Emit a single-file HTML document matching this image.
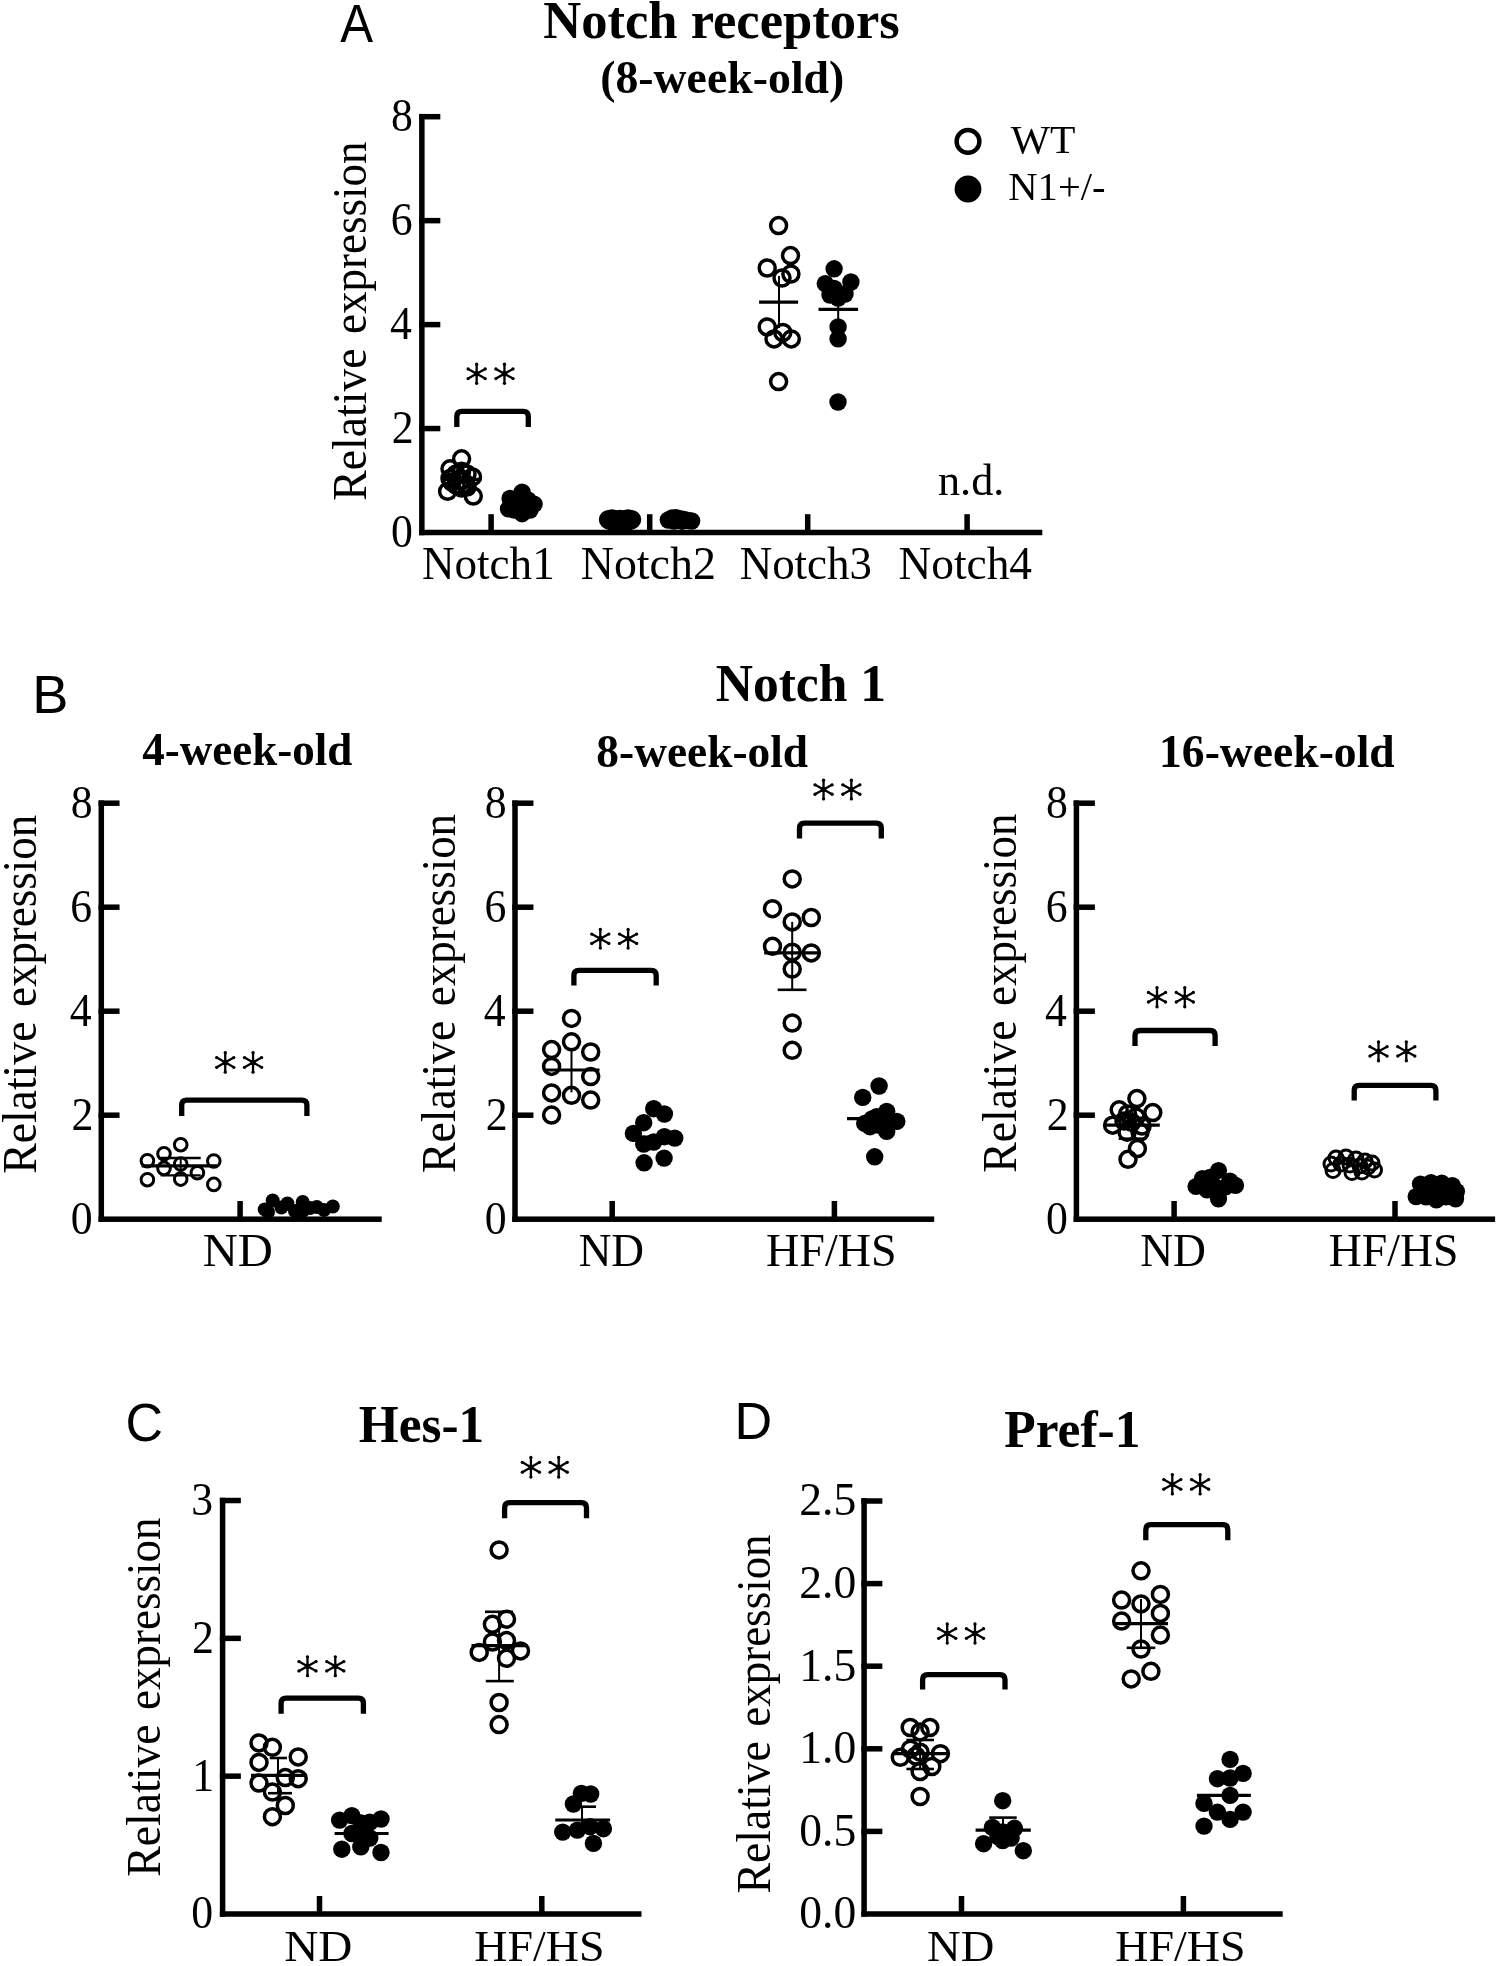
<!DOCTYPE html>
<html><head><meta charset="utf-8"><title>Figure</title>
<style>html,body{margin:0;padding:0;background:#fff;}svg{display:block;will-change:transform;}</style>
</head><body>
<svg width="1498" height="1966" viewBox="0 0 1498 1966"><rect width="100%" height="100%" fill="#fff"/><text transform="translate(340.4 41.85) scale(0.9246 1)" x="-0.13" y="0" font-family="Liberation Sans" font-weight="normal" font-size="53.3">A</text>
<text transform="translate(544.3 37.7) scale(0.9915 1)" x="-1.06" y="0" font-family="Liberation Serif" font-weight="bold" font-size="53">Notch receptors</text>
<text transform="translate(602.1 92.8) scale(0.9702 1)" x="-2.01" y="0" font-family="Liberation Serif" font-weight="bold" font-size="47.2">(8-week-old)</text>
<rect x="419.1" y="113.95" width="5.5" height="421.3"/>
<rect x="419.1" y="529.75" width="623.2" height="5.5"/>
<rect x="419.1" y="425.8" width="21.2" height="5.5"/>
<rect x="419.1" y="321.85" width="21.2" height="5.5"/>
<rect x="419.1" y="217.9" width="21.2" height="5.5"/>
<rect x="419.1" y="113.95" width="21.2" height="5.5"/>
<rect x="488.35" y="514.2" width="5.5" height="18.3"/>
<rect x="646.95" y="514.2" width="5.5" height="18.3"/>
<rect x="804.95" y="514.2" width="5.5" height="18.3"/>
<rect x="964.35" y="514.2" width="5.5" height="18.3"/>
<text transform="translate(392.7 546.9) scale(0.9600 1)" x="-1.71" y="0" font-family="Liberation Serif" font-weight="normal" font-size="45.6">0</text>
<text transform="translate(393.68 442.96) scale(0.9600 1)" x="-1.94" y="0" font-family="Liberation Serif" font-weight="normal" font-size="45.6">2</text>
<text transform="translate(390.94 339.01) scale(0.9600 1)" x="-0.91" y="0" font-family="Liberation Serif" font-weight="normal" font-size="45.6">4</text>
<text transform="translate(392.59 235.05) scale(0.9600 1)" x="-1.94" y="0" font-family="Liberation Serif" font-weight="normal" font-size="45.6">6</text>
<text transform="translate(392.7 131.1) scale(0.9600 1)" x="-1.71" y="0" font-family="Liberation Serif" font-weight="normal" font-size="45.6">8</text>
<text transform="translate(365.7 499.5) rotate(-90) scale(0.9505 1)" x="-1.32" y="0" font-family="Liberation Serif" font-weight="normal" font-size="48.1">Relative</text>
<text transform="translate(365.7 332.2) rotate(-90) scale(0.9355 1)" x="-1.92" y="0" font-family="Liberation Serif" font-weight="normal" font-size="48.1">expression</text>
<text transform="translate(423.2 579.1) scale(0.9743 1)" x="-1.27" y="0" font-family="Liberation Serif" font-weight="normal" font-size="46.3">Notch1</text>
<text transform="translate(582 579.1) scale(0.9914 1)" x="-1.27" y="0" font-family="Liberation Serif" font-weight="normal" font-size="46.3">Notch2</text>
<text transform="translate(740.9 579.1) scale(0.9713 1)" x="-1.27" y="0" font-family="Liberation Serif" font-weight="normal" font-size="46.3">Notch3</text>
<text transform="translate(899.7 579.1) scale(0.9800 1)" x="-1.27" y="0" font-family="Liberation Serif" font-weight="normal" font-size="46.3">Notch4</text>
<text transform="translate(939 494.6) scale(0.9817 1)" x="-1.01" y="0" font-family="Liberation Serif" font-weight="normal" font-size="45">n.d.</text>
<circle cx="968" cy="141.4" r="11.4" fill="none" stroke="#000" stroke-width="4.4"/>
<circle cx="968" cy="189" r="13.4"/>
<text transform="translate(1010.8 152.7) scale(1.0484 1)" x="-0" y="0" font-family="Liberation Serif" font-weight="normal" font-size="39.7">WT</text>
<text transform="translate(1009.4 200.1) scale(1.0227 1)" x="-1.09" y="0" font-family="Liberation Serif" font-weight="normal" font-size="39.7">N1+/-</text>
<path d="M456.8 426.9 V416.4 Q456.8 411.4 461.8 411.4 H523.3 Q528.3 411.4 528.3 416.4 V426.9" fill="none" stroke="#000" stroke-width="5.3"/>
<path d="M476.65 364.15V383.35M468.1 368.95L485.2 378.55M468.1 378.55L485.2 368.95" stroke="#000" stroke-width="2.3" stroke-linecap="round" fill="none"/>
<circle cx="476.65" cy="364.15" r="1.65"/><circle cx="476.65" cy="383.35" r="1.65"/><circle cx="468.1" cy="368.95" r="1.65"/><circle cx="485.2" cy="378.55" r="1.65"/><circle cx="468.1" cy="378.55" r="1.65"/><circle cx="485.2" cy="368.95" r="1.65"/>
<circle cx="476.65" cy="373.75" r="2.7"/>
<path d="M504.45 364.15V383.35M495.9 368.95L513 378.55M495.9 378.55L513 368.95" stroke="#000" stroke-width="2.3" stroke-linecap="round" fill="none"/>
<circle cx="504.45" cy="364.15" r="1.65"/><circle cx="504.45" cy="383.35" r="1.65"/><circle cx="495.9" cy="368.95" r="1.65"/><circle cx="513" cy="378.55" r="1.65"/><circle cx="495.9" cy="378.55" r="1.65"/><circle cx="513" cy="368.95" r="1.65"/>
<circle cx="504.45" cy="373.75" r="2.7"/>
<line x1="441.5" y1="479.3" x2="481.5" y2="479.3" stroke="#000" stroke-width="3.2"/>
<circle cx="461.6" cy="458.8" r="8" fill="none" stroke="#000" stroke-width="3.5"/>
<circle cx="450" cy="468.8" r="8" fill="none" stroke="#000" stroke-width="3.5"/>
<circle cx="461.6" cy="471.2" r="8" fill="none" stroke="#000" stroke-width="3.5"/>
<circle cx="472.5" cy="476.9" r="8" fill="none" stroke="#000" stroke-width="3.5"/>
<circle cx="450" cy="478.5" r="8" fill="none" stroke="#000" stroke-width="3.5"/>
<circle cx="461.6" cy="480" r="8" fill="none" stroke="#000" stroke-width="3.5"/>
<circle cx="447.6" cy="491.3" r="8" fill="none" stroke="#000" stroke-width="3.5"/>
<circle cx="461.6" cy="488.1" r="8" fill="none" stroke="#000" stroke-width="3.5"/>
<circle cx="473.3" cy="496.1" r="8" fill="none" stroke="#000" stroke-width="3.5"/>
<circle cx="466" cy="484" r="8" fill="none" stroke="#000" stroke-width="3.5"/>
<circle cx="456" cy="474" r="8" fill="none" stroke="#000" stroke-width="3.5"/>
<circle cx="467" cy="474" r="8" fill="none" stroke="#000" stroke-width="3.5"/>
<circle cx="456" cy="485" r="8" fill="none" stroke="#000" stroke-width="3.5"/>
<circle cx="467" cy="487" r="8" fill="none" stroke="#000" stroke-width="3.5"/>
<circle cx="461" cy="481" r="8" fill="none" stroke="#000" stroke-width="3.5"/>
<circle cx="452" cy="482" r="8" fill="none" stroke="#000" stroke-width="3.5"/>
<circle cx="522.1" cy="492.1" r="8.7"/>
<circle cx="510.1" cy="498.5" r="8.7"/>
<circle cx="534.1" cy="504.1" r="8.7"/>
<circle cx="508.5" cy="508.9" r="8.7"/>
<circle cx="522.1" cy="513.7" r="8.7"/>
<circle cx="518.1" cy="504.1" r="8.7"/>
<circle cx="528" cy="500" r="8.7"/>
<circle cx="514" cy="510" r="8.7"/>
<circle cx="530" cy="510" r="8.7"/>
<circle cx="608.6" cy="519.7" r="8" fill="none" stroke="#000" stroke-width="3.5"/>
<circle cx="611.46" cy="520.7" r="8" fill="none" stroke="#000" stroke-width="3.5"/>
<circle cx="614.32" cy="519.7" r="8" fill="none" stroke="#000" stroke-width="3.5"/>
<circle cx="617.18" cy="520.7" r="8" fill="none" stroke="#000" stroke-width="3.5"/>
<circle cx="620.04" cy="519.7" r="8" fill="none" stroke="#000" stroke-width="3.5"/>
<circle cx="622.9" cy="520.7" r="8" fill="none" stroke="#000" stroke-width="3.5"/>
<circle cx="625.76" cy="519.7" r="8" fill="none" stroke="#000" stroke-width="3.5"/>
<circle cx="628.62" cy="520.7" r="8" fill="none" stroke="#000" stroke-width="3.5"/>
<circle cx="631.48" cy="519.7" r="8" fill="none" stroke="#000" stroke-width="3.5"/>
<circle cx="612" cy="519" r="8" fill="none" stroke="#000" stroke-width="3.5"/>
<circle cx="620" cy="519.5" r="8" fill="none" stroke="#000" stroke-width="3.5"/>
<circle cx="628" cy="519" r="8" fill="none" stroke="#000" stroke-width="3.5"/>
<circle cx="668.3" cy="520" r="8.7"/>
<circle cx="672" cy="518" r="8.7"/>
<circle cx="676" cy="517.6" r="8.7"/>
<circle cx="680" cy="518.8" r="8.7"/>
<circle cx="684" cy="519.5" r="8.7"/>
<circle cx="688" cy="520.5" r="8.7"/>
<circle cx="691.6" cy="521" r="8.7"/>
<circle cx="674" cy="521" r="8.7"/>
<circle cx="682" cy="521.2" r="8.7"/>
<line x1="779" y1="276" x2="779" y2="328" stroke="#000" stroke-width="2"/>
<line x1="759.1" y1="302.1" x2="798.1" y2="302.1" stroke="#000" stroke-width="3.2"/>
<circle cx="778.6" cy="225.6" r="8" fill="none" stroke="#000" stroke-width="3.5"/>
<circle cx="790.5" cy="255.6" r="8" fill="none" stroke="#000" stroke-width="3.5"/>
<circle cx="767.2" cy="268" r="8" fill="none" stroke="#000" stroke-width="3.5"/>
<circle cx="782" cy="278" r="8" fill="none" stroke="#000" stroke-width="3.5"/>
<circle cx="790.9" cy="274" r="8" fill="none" stroke="#000" stroke-width="3.5"/>
<circle cx="767.2" cy="326.9" r="8" fill="none" stroke="#000" stroke-width="3.5"/>
<circle cx="774" cy="338.9" r="8" fill="none" stroke="#000" stroke-width="3.5"/>
<circle cx="782.8" cy="332.5" r="8" fill="none" stroke="#000" stroke-width="3.5"/>
<circle cx="791.3" cy="338.9" r="8" fill="none" stroke="#000" stroke-width="3.5"/>
<circle cx="778.6" cy="381.6" r="8" fill="none" stroke="#000" stroke-width="3.5"/>
<line x1="838.2" y1="290" x2="838.2" y2="328" stroke="#000" stroke-width="2"/>
<line x1="818.5" y1="309.3" x2="858.1" y2="309.3" stroke="#000" stroke-width="3.2"/>
<circle cx="834.1" cy="268.8" r="8.7"/>
<circle cx="825.3" cy="283.6" r="8.7"/>
<circle cx="850.9" cy="282" r="8.7"/>
<circle cx="838.1" cy="298.1" r="8.7"/>
<circle cx="834.1" cy="288.5" r="8.7"/>
<circle cx="830" cy="295" r="8.7"/>
<circle cx="845" cy="294" r="8.7"/>
<circle cx="838.1" cy="326.9" r="8.7"/>
<circle cx="838.1" cy="338.9" r="8.7"/>
<circle cx="838" cy="402" r="8.7"/>
<text transform="translate(36.6 713.1) scale(1.0163 1)" x="-4.41" y="0" font-family="Liberation Sans" font-weight="normal" font-size="53.4">B</text>
<text transform="translate(716.7 700.9) scale(0.9603 1)" x="-1.07" y="0" font-family="Liberation Serif" font-weight="bold" font-size="53.7">Notch 1</text>
<text transform="translate(142.8 765.3) scale(0.9791 1)" x="-0.58" y="0" font-family="Liberation Serif" font-weight="bold" font-size="46">4-week-old</text>
<text transform="translate(597.8 766.6) scale(0.9871 1)" x="-1.5" y="0" font-family="Liberation Serif" font-weight="bold" font-size="46">8-week-old</text>
<text transform="translate(1162.7 767.3) scale(0.9664 1)" x="-3.78" y="0" font-family="Liberation Serif" font-weight="bold" font-size="47.2">16-week-old</text>
<rect x="98.55" y="800.45" width="5.5" height="421.5"/>
<rect x="98.55" y="1216.45" width="283.15" height="5.5"/>
<rect x="98.55" y="1112.45" width="21" height="5.5"/>
<rect x="98.55" y="1008.45" width="21" height="5.5"/>
<rect x="98.55" y="904.45" width="21" height="5.5"/>
<rect x="98.55" y="800.45" width="21" height="5.5"/>
<rect x="237.35" y="1201" width="5.5" height="18.2"/>
<text transform="translate(72.3 1233.61) scale(0.9600 1)" x="-1.71" y="0" font-family="Liberation Serif" font-weight="normal" font-size="45.6">0</text>
<text transform="translate(73.28 1129.61) scale(0.9600 1)" x="-1.94" y="0" font-family="Liberation Serif" font-weight="normal" font-size="45.6">2</text>
<text transform="translate(70.54 1025.61) scale(0.9600 1)" x="-0.91" y="0" font-family="Liberation Serif" font-weight="normal" font-size="45.6">4</text>
<text transform="translate(72.19 921.61) scale(0.9600 1)" x="-1.94" y="0" font-family="Liberation Serif" font-weight="normal" font-size="45.6">6</text>
<text transform="translate(72.3 817.61) scale(0.9600 1)" x="-1.71" y="0" font-family="Liberation Serif" font-weight="normal" font-size="45.6">8</text>
<text transform="translate(35.9 1172.6) rotate(-90) scale(0.9505 1)" x="-1.32" y="0" font-family="Liberation Serif" font-weight="normal" font-size="48.1">Relative</text>
<text transform="translate(35.9 1005.3) rotate(-90) scale(0.9355 1)" x="-1.92" y="0" font-family="Liberation Serif" font-weight="normal" font-size="48.1">expression</text>
<text transform="translate(204 1265.9) scale(1.0371 1)" x="-1.29" y="0" font-family="Liberation Serif" font-weight="normal" font-size="46.9">ND</text>
<path d="M181.7 1116 V1105.1 Q181.7 1100.1 186.7 1100.1 H301.9 Q306.9 1100.1 306.9 1105.1 V1116" fill="none" stroke="#000" stroke-width="5.3"/>
<path d="M225.25 1052.75V1072.15M216.7 1057.6L233.8 1067.3M216.7 1067.3L233.8 1057.6" stroke="#000" stroke-width="2.3" stroke-linecap="round" fill="none"/>
<circle cx="225.25" cy="1052.75" r="1.65"/><circle cx="225.25" cy="1072.15" r="1.65"/><circle cx="216.7" cy="1057.6" r="1.65"/><circle cx="233.8" cy="1067.3" r="1.65"/><circle cx="216.7" cy="1067.3" r="1.65"/><circle cx="233.8" cy="1057.6" r="1.65"/>
<circle cx="225.25" cy="1062.45" r="2.7"/>
<path d="M253.05 1052.75V1072.15M244.5 1057.6L261.6 1067.3M244.5 1067.3L261.6 1057.6" stroke="#000" stroke-width="2.3" stroke-linecap="round" fill="none"/>
<circle cx="253.05" cy="1052.75" r="1.65"/><circle cx="253.05" cy="1072.15" r="1.65"/><circle cx="244.5" cy="1057.6" r="1.65"/><circle cx="261.6" cy="1067.3" r="1.65"/><circle cx="244.5" cy="1067.3" r="1.65"/><circle cx="261.6" cy="1057.6" r="1.65"/>
<circle cx="253.05" cy="1062.45" r="2.7"/>
<line x1="141.6" y1="1165.8" x2="217.2" y2="1165.8" stroke="#000" stroke-width="3.2"/>
<line x1="180.7" y1="1158" x2="180.7" y2="1175.4" stroke="#000" stroke-width="2"/>
<line x1="160.7" y1="1158" x2="200.7" y2="1158" stroke="#000" stroke-width="2.4"/>
<line x1="160.7" y1="1175.4" x2="200.7" y2="1175.4" stroke="#000" stroke-width="2.4"/>
<circle cx="180.7" cy="1144.7" r="6.3" fill="none" stroke="#000" stroke-width="3"/>
<circle cx="164" cy="1153.7" r="6.3" fill="none" stroke="#000" stroke-width="3"/>
<circle cx="147.4" cy="1160.7" r="6.3" fill="none" stroke="#000" stroke-width="3"/>
<circle cx="213.8" cy="1161" r="6.3" fill="none" stroke="#000" stroke-width="3"/>
<circle cx="164" cy="1168.4" r="6.3" fill="none" stroke="#000" stroke-width="3"/>
<circle cx="180.7" cy="1164" r="6.3" fill="none" stroke="#000" stroke-width="3"/>
<circle cx="180.7" cy="1179.1" r="6.3" fill="none" stroke="#000" stroke-width="3"/>
<circle cx="197.4" cy="1172.7" r="6.3" fill="none" stroke="#000" stroke-width="3"/>
<circle cx="147.4" cy="1179.7" r="6.3" fill="none" stroke="#000" stroke-width="3"/>
<circle cx="213.8" cy="1184.4" r="6.3" fill="none" stroke="#000" stroke-width="3"/>
<circle cx="264.7" cy="1209.4" r="7"/>
<circle cx="272.7" cy="1200.5" r="7"/>
<circle cx="281.4" cy="1207.5" r="7"/>
<circle cx="287.4" cy="1203.5" r="7"/>
<circle cx="295" cy="1211" r="7"/>
<circle cx="302.7" cy="1202" r="7"/>
<circle cx="302.7" cy="1211" r="7"/>
<circle cx="310" cy="1208" r="7"/>
<circle cx="316.8" cy="1207" r="7"/>
<circle cx="324" cy="1210" r="7"/>
<circle cx="332.8" cy="1206.5" r="7"/>
<circle cx="268" cy="1212" r="7"/>
<rect x="512.25" y="800.45" width="5.5" height="421.5"/>
<rect x="512.25" y="1216.45" width="421.95" height="5.5"/>
<rect x="512.25" y="1112.45" width="21.2" height="5.5"/>
<rect x="512.25" y="1008.45" width="21.2" height="5.5"/>
<rect x="512.25" y="904.45" width="21.2" height="5.5"/>
<rect x="512.25" y="800.45" width="21.2" height="5.5"/>
<rect x="609.45" y="1201" width="5.5" height="18.2"/>
<rect x="831.65" y="1201" width="5.5" height="18.2"/>
<text transform="translate(486.5 1233.61) scale(0.9600 1)" x="-1.71" y="0" font-family="Liberation Serif" font-weight="normal" font-size="45.6">0</text>
<text transform="translate(487.48 1129.61) scale(0.9600 1)" x="-1.94" y="0" font-family="Liberation Serif" font-weight="normal" font-size="45.6">2</text>
<text transform="translate(484.74 1025.61) scale(0.9600 1)" x="-0.91" y="0" font-family="Liberation Serif" font-weight="normal" font-size="45.6">4</text>
<text transform="translate(486.39 921.61) scale(0.9600 1)" x="-1.94" y="0" font-family="Liberation Serif" font-weight="normal" font-size="45.6">6</text>
<text transform="translate(486.5 817.61) scale(0.9600 1)" x="-1.71" y="0" font-family="Liberation Serif" font-weight="normal" font-size="45.6">8</text>
<text transform="translate(454.8 1171.8) rotate(-90) scale(0.9505 1)" x="-1.32" y="0" font-family="Liberation Serif" font-weight="normal" font-size="48.1">Relative</text>
<text transform="translate(454.8 1004.5) rotate(-90) scale(0.9355 1)" x="-1.92" y="0" font-family="Liberation Serif" font-weight="normal" font-size="48.1">expression</text>
<text transform="translate(579.9 1265.9) scale(0.9659 1)" x="-1.29" y="0" font-family="Liberation Serif" font-weight="normal" font-size="46.9">ND</text>
<text transform="translate(767.2 1265.9) scale(0.9834 1)" x="-1.29" y="0" font-family="Liberation Serif" font-weight="normal" font-size="46.9">HF/HS</text>
<path d="M573.9 985.6 V975.3 Q573.9 970.3 578.9 970.3 H651.2 Q656.2 970.3 656.2 975.3 V985.6" fill="none" stroke="#000" stroke-width="5.3"/>
<path d="M600.3 929.45V948.05M591.75 934.1L608.85 943.4M591.75 943.4L608.85 934.1" stroke="#000" stroke-width="2.3" stroke-linecap="round" fill="none"/>
<circle cx="600.3" cy="929.45" r="1.65"/><circle cx="600.3" cy="948.05" r="1.65"/><circle cx="591.75" cy="934.1" r="1.65"/><circle cx="608.85" cy="943.4" r="1.65"/><circle cx="591.75" cy="943.4" r="1.65"/><circle cx="608.85" cy="934.1" r="1.65"/>
<circle cx="600.3" cy="938.75" r="2.7"/>
<path d="M628.1 929.45V948.05M619.55 934.1L636.65 943.4M619.55 943.4L636.65 934.1" stroke="#000" stroke-width="2.3" stroke-linecap="round" fill="none"/>
<circle cx="628.1" cy="929.45" r="1.65"/><circle cx="628.1" cy="948.05" r="1.65"/><circle cx="619.55" cy="934.1" r="1.65"/><circle cx="636.65" cy="943.4" r="1.65"/><circle cx="619.55" cy="943.4" r="1.65"/><circle cx="636.65" cy="934.1" r="1.65"/>
<circle cx="628.1" cy="938.75" r="2.7"/>
<path d="M799.5 838.6 V828.1 Q799.5 823.1 804.5 823.1 H876.3 Q881.3 823.1 881.3 828.1 V838.6" fill="none" stroke="#000" stroke-width="5.3"/>
<path d="M823.55 780.15V798.95M815 784.85L832.1 794.25M815 794.25L832.1 784.85" stroke="#000" stroke-width="2.3" stroke-linecap="round" fill="none"/>
<circle cx="823.55" cy="780.15" r="1.65"/><circle cx="823.55" cy="798.95" r="1.65"/><circle cx="815" cy="784.85" r="1.65"/><circle cx="832.1" cy="794.25" r="1.65"/><circle cx="815" cy="794.25" r="1.65"/><circle cx="832.1" cy="784.85" r="1.65"/>
<circle cx="823.55" cy="789.55" r="2.7"/>
<path d="M851.35 780.15V798.95M842.8 784.85L859.9 794.25M842.8 794.25L859.9 784.85" stroke="#000" stroke-width="2.3" stroke-linecap="round" fill="none"/>
<circle cx="851.35" cy="780.15" r="1.65"/><circle cx="851.35" cy="798.95" r="1.65"/><circle cx="842.8" cy="784.85" r="1.65"/><circle cx="859.9" cy="794.25" r="1.65"/><circle cx="842.8" cy="794.25" r="1.65"/><circle cx="859.9" cy="784.85" r="1.65"/>
<circle cx="851.35" cy="789.55" r="2.7"/>
<line x1="571.5" y1="1049.6" x2="571.5" y2="1092.3" stroke="#000" stroke-width="2"/>
<line x1="543.5" y1="1070" x2="599.5" y2="1070" stroke="#000" stroke-width="3.2"/>
<circle cx="571.5" cy="1018.4" r="8" fill="none" stroke="#000" stroke-width="3.5"/>
<circle cx="571.5" cy="1041.8" r="8" fill="none" stroke="#000" stroke-width="3.5"/>
<circle cx="551.6" cy="1049.6" r="8" fill="none" stroke="#000" stroke-width="3.5"/>
<circle cx="590.7" cy="1052" r="8" fill="none" stroke="#000" stroke-width="3.5"/>
<circle cx="551.6" cy="1066.4" r="8" fill="none" stroke="#000" stroke-width="3.5"/>
<circle cx="590.7" cy="1076.6" r="8" fill="none" stroke="#000" stroke-width="3.5"/>
<circle cx="551.6" cy="1092.9" r="8" fill="none" stroke="#000" stroke-width="3.5"/>
<circle cx="571.5" cy="1095.3" r="8" fill="none" stroke="#000" stroke-width="3.5"/>
<circle cx="590.7" cy="1100.1" r="8" fill="none" stroke="#000" stroke-width="3.5"/>
<circle cx="551.6" cy="1115.1" r="8" fill="none" stroke="#000" stroke-width="3.5"/>
<line x1="626" y1="1137" x2="682" y2="1137" stroke="#000" stroke-width="3.2"/>
<circle cx="653.7" cy="1108.7" r="8.7"/>
<circle cx="664.4" cy="1114" r="8.7"/>
<circle cx="643.7" cy="1122.7" r="8.7"/>
<circle cx="633.4" cy="1133.4" r="8.7"/>
<circle cx="643.7" cy="1144.1" r="8.7"/>
<circle cx="664.4" cy="1136.7" r="8.7"/>
<circle cx="674.8" cy="1138.1" r="8.7"/>
<circle cx="644.1" cy="1162.8" r="8.7"/>
<circle cx="664.1" cy="1158.1" r="8.7"/>
<circle cx="653.7" cy="1142" r="8.7"/>
<line x1="792.2" y1="921.9" x2="792.2" y2="989.8" stroke="#000" stroke-width="2"/>
<line x1="777.7" y1="989.8" x2="806.5" y2="989.8" stroke="#000" stroke-width="2.6"/>
<line x1="764.2" y1="952.9" x2="820.2" y2="952.9" stroke="#000" stroke-width="3.2"/>
<circle cx="792.2" cy="878.9" r="8" fill="none" stroke="#000" stroke-width="3.5"/>
<circle cx="772.5" cy="908.7" r="8" fill="none" stroke="#000" stroke-width="3.5"/>
<circle cx="792.2" cy="921.9" r="8" fill="none" stroke="#000" stroke-width="3.5"/>
<circle cx="811.3" cy="917.5" r="8" fill="none" stroke="#000" stroke-width="3.5"/>
<circle cx="772.5" cy="946.3" r="8" fill="none" stroke="#000" stroke-width="3.5"/>
<circle cx="792.2" cy="952.2" r="8" fill="none" stroke="#000" stroke-width="3.5"/>
<circle cx="811.3" cy="952.9" r="8" fill="none" stroke="#000" stroke-width="3.5"/>
<circle cx="792.2" cy="969.1" r="8" fill="none" stroke="#000" stroke-width="3.5"/>
<circle cx="792.2" cy="1023" r="8" fill="none" stroke="#000" stroke-width="3.5"/>
<circle cx="792.2" cy="1050.3" r="8" fill="none" stroke="#000" stroke-width="3.5"/>
<line x1="847" y1="1118.7" x2="903" y2="1118.7" stroke="#000" stroke-width="3.2"/>
<circle cx="879.1" cy="1086" r="8.7"/>
<circle cx="862.7" cy="1097.4" r="8.7"/>
<circle cx="864.7" cy="1123.4" r="8.7"/>
<circle cx="886.7" cy="1111.4" r="8.7"/>
<circle cx="896.8" cy="1121.4" r="8.7"/>
<circle cx="886.7" cy="1131.4" r="8.7"/>
<circle cx="870" cy="1126.7" r="8.7"/>
<circle cx="876.7" cy="1116.7" r="8.7"/>
<circle cx="874.7" cy="1156.8" r="8.7"/>
<circle cx="878" cy="1125" r="8.7"/>
<circle cx="885" cy="1121" r="8.7"/>
<circle cx="872" cy="1119" r="8.7"/>
<rect x="1073.65" y="800.45" width="5.5" height="421.5"/>
<rect x="1073.65" y="1216.45" width="421.45" height="5.5"/>
<rect x="1073.65" y="1112.45" width="21.2" height="5.5"/>
<rect x="1073.65" y="1008.45" width="21.2" height="5.5"/>
<rect x="1073.65" y="904.45" width="21.2" height="5.5"/>
<rect x="1073.65" y="800.45" width="21.2" height="5.5"/>
<rect x="1171.35" y="1201" width="5.5" height="18.2"/>
<rect x="1392.25" y="1201" width="5.5" height="18.2"/>
<text transform="translate(1047.7 1233.61) scale(0.9600 1)" x="-1.71" y="0" font-family="Liberation Serif" font-weight="normal" font-size="45.6">0</text>
<text transform="translate(1048.68 1129.61) scale(0.9600 1)" x="-1.94" y="0" font-family="Liberation Serif" font-weight="normal" font-size="45.6">2</text>
<text transform="translate(1045.94 1025.61) scale(0.9600 1)" x="-0.91" y="0" font-family="Liberation Serif" font-weight="normal" font-size="45.6">4</text>
<text transform="translate(1047.59 921.61) scale(0.9600 1)" x="-1.94" y="0" font-family="Liberation Serif" font-weight="normal" font-size="45.6">6</text>
<text transform="translate(1047.7 817.61) scale(0.9600 1)" x="-1.71" y="0" font-family="Liberation Serif" font-weight="normal" font-size="45.6">8</text>
<text transform="translate(1015.9 1171.5) rotate(-90) scale(0.9505 1)" x="-1.32" y="0" font-family="Liberation Serif" font-weight="normal" font-size="48.1">Relative</text>
<text transform="translate(1015.9 1004.2) rotate(-90) scale(0.9355 1)" x="-1.92" y="0" font-family="Liberation Serif" font-weight="normal" font-size="48.1">expression</text>
<text transform="translate(1141.4 1265.9) scale(0.9721 1)" x="-1.29" y="0" font-family="Liberation Serif" font-weight="normal" font-size="46.9">ND</text>
<text transform="translate(1329.9 1265.9) scale(0.9764 1)" x="-1.29" y="0" font-family="Liberation Serif" font-weight="normal" font-size="46.9">HF/HS</text>
<path d="M1135 1046.1 V1035.5 Q1135 1030.5 1140 1030.5 H1210.1 Q1215.1 1030.5 1215.1 1035.5 V1046.1" fill="none" stroke="#000" stroke-width="5.3"/>
<path d="M1157 987.65V1006.75M1148.45 992.43L1165.55 1001.98M1148.45 1001.98L1165.55 992.43" stroke="#000" stroke-width="2.3" stroke-linecap="round" fill="none"/>
<circle cx="1157" cy="987.65" r="1.65"/><circle cx="1157" cy="1006.75" r="1.65"/><circle cx="1148.45" cy="992.43" r="1.65"/><circle cx="1165.55" cy="1001.98" r="1.65"/><circle cx="1148.45" cy="1001.98" r="1.65"/><circle cx="1165.55" cy="992.43" r="1.65"/>
<circle cx="1157" cy="997.2" r="2.7"/>
<path d="M1184.8 987.65V1006.75M1176.25 992.43L1193.35 1001.98M1176.25 1001.98L1193.35 992.43" stroke="#000" stroke-width="2.3" stroke-linecap="round" fill="none"/>
<circle cx="1184.8" cy="987.65" r="1.65"/><circle cx="1184.8" cy="1006.75" r="1.65"/><circle cx="1176.25" cy="992.43" r="1.65"/><circle cx="1193.35" cy="1001.98" r="1.65"/><circle cx="1176.25" cy="1001.98" r="1.65"/><circle cx="1193.35" cy="992.43" r="1.65"/>
<circle cx="1184.8" cy="997.2" r="2.7"/>
<path d="M1354.2 1100.5 V1090.3 Q1354.2 1085.3 1359.2 1085.3 H1430.9 Q1435.9 1085.3 1435.9 1090.3 V1100.5" fill="none" stroke="#000" stroke-width="5.3"/>
<path d="M1378.5 1041.95V1060.75M1369.95 1046.65L1387.05 1056.05M1369.95 1056.05L1387.05 1046.65" stroke="#000" stroke-width="2.3" stroke-linecap="round" fill="none"/>
<circle cx="1378.5" cy="1041.95" r="1.65"/><circle cx="1378.5" cy="1060.75" r="1.65"/><circle cx="1369.95" cy="1046.65" r="1.65"/><circle cx="1387.05" cy="1056.05" r="1.65"/><circle cx="1369.95" cy="1056.05" r="1.65"/><circle cx="1387.05" cy="1046.65" r="1.65"/>
<circle cx="1378.5" cy="1051.35" r="2.7"/>
<path d="M1406.3 1041.95V1060.75M1397.75 1046.65L1414.85 1056.05M1397.75 1056.05L1414.85 1046.65" stroke="#000" stroke-width="2.3" stroke-linecap="round" fill="none"/>
<circle cx="1406.3" cy="1041.95" r="1.65"/><circle cx="1406.3" cy="1060.75" r="1.65"/><circle cx="1397.75" cy="1046.65" r="1.65"/><circle cx="1414.85" cy="1056.05" r="1.65"/><circle cx="1397.75" cy="1056.05" r="1.65"/><circle cx="1414.85" cy="1046.65" r="1.65"/>
<circle cx="1406.3" cy="1051.35" r="2.7"/>
<line x1="1104.6" y1="1125.2" x2="1159.8" y2="1125.2" stroke="#000" stroke-width="3.2"/>
<line x1="1132.5" y1="1112" x2="1132.5" y2="1138.7" stroke="#000" stroke-width="2"/>
<line x1="1118.7" y1="1138.7" x2="1146.3" y2="1138.7" stroke="#000" stroke-width="2.6"/>
<circle cx="1136.9" cy="1098.6" r="8" fill="none" stroke="#000" stroke-width="3.5"/>
<circle cx="1119.2" cy="1109.8" r="8" fill="none" stroke="#000" stroke-width="3.5"/>
<circle cx="1152.8" cy="1112.6" r="8" fill="none" stroke="#000" stroke-width="3.5"/>
<circle cx="1112.6" cy="1125.2" r="8" fill="none" stroke="#000" stroke-width="3.5"/>
<circle cx="1127.6" cy="1114" r="8" fill="none" stroke="#000" stroke-width="3.5"/>
<circle cx="1131.8" cy="1122.4" r="8" fill="none" stroke="#000" stroke-width="3.5"/>
<circle cx="1142.1" cy="1126.1" r="8" fill="none" stroke="#000" stroke-width="3.5"/>
<circle cx="1127.1" cy="1132.2" r="8" fill="none" stroke="#000" stroke-width="3.5"/>
<circle cx="1137.4" cy="1148.6" r="8" fill="none" stroke="#000" stroke-width="3.5"/>
<circle cx="1128" cy="1159.3" r="8" fill="none" stroke="#000" stroke-width="3.5"/>
<circle cx="1136" cy="1117" r="8" fill="none" stroke="#000" stroke-width="3.5"/>
<circle cx="1124" cy="1121" r="8" fill="none" stroke="#000" stroke-width="3.5"/>
<circle cx="1140" cy="1132" r="8" fill="none" stroke="#000" stroke-width="3.5"/>
<circle cx="1218.5" cy="1170.5" r="8.6"/>
<circle cx="1196" cy="1186.5" r="8.6"/>
<circle cx="1218.5" cy="1198.8" r="8.6"/>
<circle cx="1235.5" cy="1185.4" r="8.6"/>
<circle cx="1202.4" cy="1178.5" r="8.6"/>
<circle cx="1213.1" cy="1184.9" r="8.6"/>
<circle cx="1225.4" cy="1187" r="8.6"/>
<circle cx="1210" cy="1177.4" r="8.6"/>
<circle cx="1230" cy="1181" r="8.6"/>
<circle cx="1207" cy="1190" r="8.6"/>
<circle cx="1333" cy="1170.5" r="7" fill="none" stroke="#000" stroke-width="3"/>
<circle cx="1352" cy="1172.6" r="7" fill="none" stroke="#000" stroke-width="3"/>
<circle cx="1374.5" cy="1170" r="7" fill="none" stroke="#000" stroke-width="3"/>
<circle cx="1336" cy="1158" r="7" fill="none" stroke="#000" stroke-width="3"/>
<circle cx="1346" cy="1157" r="7" fill="none" stroke="#000" stroke-width="3"/>
<circle cx="1356" cy="1159" r="7" fill="none" stroke="#000" stroke-width="3"/>
<circle cx="1365" cy="1161" r="7" fill="none" stroke="#000" stroke-width="3"/>
<circle cx="1372" cy="1163" r="7" fill="none" stroke="#000" stroke-width="3"/>
<circle cx="1341" cy="1164" r="7" fill="none" stroke="#000" stroke-width="3"/>
<circle cx="1350" cy="1165" r="7" fill="none" stroke="#000" stroke-width="3"/>
<circle cx="1360" cy="1166" r="7" fill="none" stroke="#000" stroke-width="3"/>
<circle cx="1368" cy="1167" r="7" fill="none" stroke="#000" stroke-width="3"/>
<circle cx="1331" cy="1164" r="7" fill="none" stroke="#000" stroke-width="3"/>
<circle cx="1362" cy="1172" r="7" fill="none" stroke="#000" stroke-width="3"/>
<circle cx="1420.4" cy="1184" r="8.6"/>
<circle cx="1431" cy="1182.5" r="8.6"/>
<circle cx="1441.8" cy="1183" r="8.6"/>
<circle cx="1452.4" cy="1185.5" r="8.6"/>
<circle cx="1416.1" cy="1196.6" r="8.6"/>
<circle cx="1436.4" cy="1199.9" r="8.6"/>
<circle cx="1455.6" cy="1198.8" r="8.6"/>
<circle cx="1456.5" cy="1191.3" r="8.6"/>
<circle cx="1426" cy="1197" r="8.6"/>
<circle cx="1446" cy="1197" r="8.6"/>
<circle cx="1430" cy="1189" r="8.6"/>
<circle cx="1442" cy="1190" r="8.6"/>
<text transform="translate(128.1 1441.4) scale(0.9678 1)" x="-2.69" y="0" font-family="Liberation Sans" font-weight="normal" font-size="53.7">C</text>
<text transform="translate(359.7 1441.9) scale(0.9532 1)" x="-0.94" y="0" font-family="Liberation Serif" font-weight="bold" font-size="53.8">Hes-1</text>
<rect x="219.85" y="1497.76" width="5.5" height="418.99"/>
<rect x="219.85" y="1911.25" width="421.65" height="5.5"/>
<rect x="219.85" y="1773.42" width="21" height="5.5"/>
<rect x="219.85" y="1635.59" width="21" height="5.5"/>
<rect x="219.85" y="1497.76" width="21" height="5.5"/>
<rect x="316.75" y="1896" width="5.5" height="18"/>
<rect x="539.05" y="1896" width="5.5" height="18"/>
<text transform="translate(192.9 1928.4) scale(0.9600 1)" x="-1.71" y="0" font-family="Liberation Serif" font-weight="normal" font-size="45.6">0</text>
<text transform="translate(196.07 1790.58) scale(0.9600 1)" x="-3.99" y="0" font-family="Liberation Serif" font-weight="normal" font-size="45.6">1</text>
<text transform="translate(193.88 1652.74) scale(0.9600 1)" x="-1.94" y="0" font-family="Liberation Serif" font-weight="normal" font-size="45.6">2</text>
<text transform="translate(193.44 1514.91) scale(0.9600 1)" x="-2.17" y="0" font-family="Liberation Serif" font-weight="normal" font-size="45.6">3</text>
<text transform="translate(160 1875.4) rotate(-90) scale(0.9505 1)" x="-1.32" y="0" font-family="Liberation Serif" font-weight="normal" font-size="48.1">Relative</text>
<text transform="translate(160 1708.1) rotate(-90) scale(0.9355 1)" x="-1.92" y="0" font-family="Liberation Serif" font-weight="normal" font-size="48.1">expression</text>
<text transform="translate(285.6 1960.6) scale(1.0440 1)" x="-1.24" y="0" font-family="Liberation Serif" font-weight="normal" font-size="45.2">ND</text>
<text transform="translate(475.6 1960.6) scale(1.0171 1)" x="-1.24" y="0" font-family="Liberation Serif" font-weight="normal" font-size="45.2">HF/HS</text>
<path d="M281.1 1713.8 V1703.1 Q281.1 1698.1 286.1 1698.1 H358.4 Q363.4 1698.1 363.4 1703.1 V1713.8" fill="none" stroke="#000" stroke-width="5.3"/>
<path d="M307.5 1656.85V1675.65M298.95 1661.55L316.05 1670.95M298.95 1670.95L316.05 1661.55" stroke="#000" stroke-width="2.3" stroke-linecap="round" fill="none"/>
<circle cx="307.5" cy="1656.85" r="1.65"/><circle cx="307.5" cy="1675.65" r="1.65"/><circle cx="298.95" cy="1661.55" r="1.65"/><circle cx="316.05" cy="1670.95" r="1.65"/><circle cx="298.95" cy="1670.95" r="1.65"/><circle cx="316.05" cy="1661.55" r="1.65"/>
<circle cx="307.5" cy="1666.25" r="2.7"/>
<path d="M335.3 1656.85V1675.65M326.75 1661.55L343.85 1670.95M326.75 1670.95L343.85 1661.55" stroke="#000" stroke-width="2.3" stroke-linecap="round" fill="none"/>
<circle cx="335.3" cy="1656.85" r="1.65"/><circle cx="335.3" cy="1675.65" r="1.65"/><circle cx="326.75" cy="1661.55" r="1.65"/><circle cx="343.85" cy="1670.95" r="1.65"/><circle cx="326.75" cy="1670.95" r="1.65"/><circle cx="343.85" cy="1661.55" r="1.65"/>
<circle cx="335.3" cy="1666.25" r="2.7"/>
<path d="M504.6 1518.2 V1507.7 Q504.6 1502.7 509.6 1502.7 H581.5 Q586.5 1502.7 586.5 1507.7 V1518.2" fill="none" stroke="#000" stroke-width="5.3"/>
<path d="M530.9 1457.45V1477.05M522.35 1462.35L539.45 1472.15M522.35 1472.15L539.45 1462.35" stroke="#000" stroke-width="2.3" stroke-linecap="round" fill="none"/>
<circle cx="530.9" cy="1457.45" r="1.65"/><circle cx="530.9" cy="1477.05" r="1.65"/><circle cx="522.35" cy="1462.35" r="1.65"/><circle cx="539.45" cy="1472.15" r="1.65"/><circle cx="522.35" cy="1472.15" r="1.65"/><circle cx="539.45" cy="1462.35" r="1.65"/>
<circle cx="530.9" cy="1467.25" r="2.7"/>
<path d="M558.7 1457.45V1477.05M550.15 1462.35L567.25 1472.15M550.15 1472.15L567.25 1462.35" stroke="#000" stroke-width="2.3" stroke-linecap="round" fill="none"/>
<circle cx="558.7" cy="1457.45" r="1.65"/><circle cx="558.7" cy="1477.05" r="1.65"/><circle cx="550.15" cy="1462.35" r="1.65"/><circle cx="567.25" cy="1472.15" r="1.65"/><circle cx="550.15" cy="1472.15" r="1.65"/><circle cx="567.25" cy="1462.35" r="1.65"/>
<circle cx="558.7" cy="1467.25" r="2.7"/>
<line x1="278" y1="1758" x2="278" y2="1793.2" stroke="#000" stroke-width="2"/>
<line x1="269.7" y1="1758" x2="287" y2="1758" stroke="#000" stroke-width="2.6"/>
<line x1="268" y1="1793.2" x2="292" y2="1793.2" stroke="#000" stroke-width="2.6"/>
<line x1="251" y1="1775.3" x2="307" y2="1775.3" stroke="#000" stroke-width="3.2"/>
<circle cx="259" cy="1742.9" r="8" fill="none" stroke="#000" stroke-width="3.5"/>
<circle cx="272.4" cy="1747.3" r="8" fill="none" stroke="#000" stroke-width="3.5"/>
<circle cx="298.2" cy="1756.9" r="8" fill="none" stroke="#000" stroke-width="3.5"/>
<circle cx="259" cy="1762.4" r="8" fill="none" stroke="#000" stroke-width="3.5"/>
<circle cx="285.3" cy="1777.6" r="8" fill="none" stroke="#000" stroke-width="3.5"/>
<circle cx="298.2" cy="1778.7" r="8" fill="none" stroke="#000" stroke-width="3.5"/>
<circle cx="259" cy="1783.1" r="8" fill="none" stroke="#000" stroke-width="3.5"/>
<circle cx="272.4" cy="1792.1" r="8" fill="none" stroke="#000" stroke-width="3.5"/>
<circle cx="285.3" cy="1805.5" r="8" fill="none" stroke="#000" stroke-width="3.5"/>
<circle cx="272.4" cy="1816.7" r="8" fill="none" stroke="#000" stroke-width="3.5"/>
<line x1="334.6" y1="1833.5" x2="388.6" y2="1833.5" stroke="#000" stroke-width="3.2"/>
<circle cx="351.9" cy="1815.6" r="8.7"/>
<circle cx="339.6" cy="1820.1" r="8.7"/>
<circle cx="381" cy="1819" r="8.7"/>
<circle cx="369.8" cy="1822.3" r="8.7"/>
<circle cx="351.9" cy="1833.5" r="8.7"/>
<circle cx="369.8" cy="1838" r="8.7"/>
<circle cx="341.8" cy="1849.2" r="8.7"/>
<circle cx="360.8" cy="1846.9" r="8.7"/>
<circle cx="381" cy="1852.5" r="8.7"/>
<circle cx="361" cy="1823" r="8.7"/>
<circle cx="360" cy="1836" r="8.7"/>
<line x1="499.1" y1="1611.8" x2="499.1" y2="1681.1" stroke="#000" stroke-width="2"/>
<line x1="485.8" y1="1681.1" x2="513.8" y2="1681.1" stroke="#000" stroke-width="2.6"/>
<line x1="485" y1="1611.8" x2="513" y2="1611.8" stroke="#000" stroke-width="2.6"/>
<line x1="471.5" y1="1645.7" x2="526.7" y2="1645.7" stroke="#000" stroke-width="3.2"/>
<circle cx="499.1" cy="1549.9" r="8" fill="none" stroke="#000" stroke-width="3.5"/>
<circle cx="506.5" cy="1619.2" r="8" fill="none" stroke="#000" stroke-width="3.5"/>
<circle cx="492.4" cy="1624.3" r="8" fill="none" stroke="#000" stroke-width="3.5"/>
<circle cx="492.4" cy="1642" r="8" fill="none" stroke="#000" stroke-width="3.5"/>
<circle cx="506.5" cy="1640.6" r="8" fill="none" stroke="#000" stroke-width="3.5"/>
<circle cx="479.2" cy="1652.4" r="8" fill="none" stroke="#000" stroke-width="3.5"/>
<circle cx="520.5" cy="1650.9" r="8" fill="none" stroke="#000" stroke-width="3.5"/>
<circle cx="506.5" cy="1658.3" r="8" fill="none" stroke="#000" stroke-width="3.5"/>
<circle cx="499.1" cy="1702.5" r="8" fill="none" stroke="#000" stroke-width="3.5"/>
<circle cx="499.1" cy="1724.6" r="8" fill="none" stroke="#000" stroke-width="3.5"/>
<line x1="582" y1="1806.7" x2="582" y2="1834" stroke="#000" stroke-width="2"/>
<line x1="570" y1="1806.7" x2="596" y2="1806.7" stroke="#000" stroke-width="2.6"/>
<line x1="555.3" y1="1820" x2="610.1" y2="1820" stroke="#000" stroke-width="3.2"/>
<circle cx="581.4" cy="1793.4" r="8.7"/>
<circle cx="590.7" cy="1794" r="8.7"/>
<circle cx="573.4" cy="1804" r="8.7"/>
<circle cx="562.7" cy="1832.1" r="8.7"/>
<circle cx="577.4" cy="1830.1" r="8.7"/>
<circle cx="603.4" cy="1828.7" r="8.7"/>
<circle cx="593.4" cy="1843.4" r="8.7"/>
<circle cx="590" cy="1826.7" r="8.7"/>
<text transform="translate(738.8 1439.3) scale(0.9934 1)" x="-4.33" y="0" font-family="Liberation Sans" font-weight="normal" font-size="52.5">D</text>
<text transform="translate(1005.1 1446.5) scale(0.9769 1)" x="-0.92" y="0" font-family="Liberation Serif" font-weight="bold" font-size="52.7">Pref-1</text>
<rect x="861.35" y="1498.25" width="5.5" height="418.5"/>
<rect x="861.35" y="1911.25" width="421.35" height="5.5"/>
<rect x="861.35" y="1828.65" width="21" height="5.5"/>
<rect x="861.35" y="1746.05" width="21" height="5.5"/>
<rect x="861.35" y="1663.45" width="21" height="5.5"/>
<rect x="861.35" y="1580.85" width="21" height="5.5"/>
<rect x="861.35" y="1498.25" width="21" height="5.5"/>
<rect x="958.75" y="1896" width="5.5" height="18"/>
<rect x="1180.65" y="1896" width="5.5" height="18"/>
<text transform="translate(800.92 1928.4) scale(1.0000 1)" x="-1.71" y="0" font-family="Liberation Serif" font-weight="normal" font-size="45.6">0.0</text>
<text transform="translate(801.03 1845.81) scale(1.0000 1)" x="-1.71" y="0" font-family="Liberation Serif" font-weight="normal" font-size="45.6">0.5</text>
<text transform="translate(803.2 1763.2) scale(1.0000 1)" x="-3.99" y="0" font-family="Liberation Serif" font-weight="normal" font-size="45.6">1.0</text>
<text transform="translate(803.31 1680.61) scale(1.0000 1)" x="-3.99" y="0" font-family="Liberation Serif" font-weight="normal" font-size="45.6">1.5</text>
<text transform="translate(801.15 1598) scale(1.0000 1)" x="-1.94" y="0" font-family="Liberation Serif" font-weight="normal" font-size="45.6">2.0</text>
<text transform="translate(801.26 1515.4) scale(1.0000 1)" x="-1.94" y="0" font-family="Liberation Serif" font-weight="normal" font-size="45.6">2.5</text>
<text transform="translate(769.7 1892.3) rotate(-90) scale(0.9505 1)" x="-1.32" y="0" font-family="Liberation Serif" font-weight="normal" font-size="48.1">Relative</text>
<text transform="translate(769.7 1725) rotate(-90) scale(0.9355 1)" x="-1.92" y="0" font-family="Liberation Serif" font-weight="normal" font-size="48.1">expression</text>
<text transform="translate(928.3 1960.6) scale(1.0295 1)" x="-1.24" y="0" font-family="Liberation Serif" font-weight="normal" font-size="45.2">ND</text>
<text transform="translate(1116.5 1960.6) scale(1.0171 1)" x="-1.24" y="0" font-family="Liberation Serif" font-weight="normal" font-size="45.2">HF/HS</text>
<path d="M922.6 1689.5 V1679.6 Q922.6 1674.6 927.6 1674.6 H1000 Q1005 1674.6 1005 1679.6 V1689.5" fill="none" stroke="#000" stroke-width="5.3"/>
<path d="M947.2 1623.95V1643.05M938.65 1628.72L955.75 1638.28M938.65 1638.28L955.75 1628.72" stroke="#000" stroke-width="2.3" stroke-linecap="round" fill="none"/>
<circle cx="947.2" cy="1623.95" r="1.65"/><circle cx="947.2" cy="1643.05" r="1.65"/><circle cx="938.65" cy="1628.72" r="1.65"/><circle cx="955.75" cy="1638.28" r="1.65"/><circle cx="938.65" cy="1638.28" r="1.65"/><circle cx="955.75" cy="1628.72" r="1.65"/>
<circle cx="947.2" cy="1633.5" r="2.7"/>
<path d="M975 1623.95V1643.05M966.45 1628.72L983.55 1638.28M966.45 1638.28L983.55 1628.72" stroke="#000" stroke-width="2.3" stroke-linecap="round" fill="none"/>
<circle cx="975" cy="1623.95" r="1.65"/><circle cx="975" cy="1643.05" r="1.65"/><circle cx="966.45" cy="1628.72" r="1.65"/><circle cx="983.55" cy="1638.28" r="1.65"/><circle cx="966.45" cy="1638.28" r="1.65"/><circle cx="983.55" cy="1628.72" r="1.65"/>
<circle cx="975" cy="1633.5" r="2.7"/>
<path d="M1145.8 1540.3 V1529.7 Q1145.8 1524.7 1150.8 1524.7 H1222.8 Q1227.8 1524.7 1227.8 1529.7 V1540.3" fill="none" stroke="#000" stroke-width="5.3"/>
<path d="M1172.3 1474.75V1493.95M1163.75 1479.55L1180.85 1489.15M1163.75 1489.15L1180.85 1479.55" stroke="#000" stroke-width="2.3" stroke-linecap="round" fill="none"/>
<circle cx="1172.3" cy="1474.75" r="1.65"/><circle cx="1172.3" cy="1493.95" r="1.65"/><circle cx="1163.75" cy="1479.55" r="1.65"/><circle cx="1180.85" cy="1489.15" r="1.65"/><circle cx="1163.75" cy="1489.15" r="1.65"/><circle cx="1180.85" cy="1479.55" r="1.65"/>
<circle cx="1172.3" cy="1484.35" r="2.7"/>
<path d="M1200.1 1474.75V1493.95M1191.55 1479.55L1208.65 1489.15M1191.55 1489.15L1208.65 1479.55" stroke="#000" stroke-width="2.3" stroke-linecap="round" fill="none"/>
<circle cx="1200.1" cy="1474.75" r="1.65"/><circle cx="1200.1" cy="1493.95" r="1.65"/><circle cx="1191.55" cy="1479.55" r="1.65"/><circle cx="1208.65" cy="1489.15" r="1.65"/><circle cx="1191.55" cy="1489.15" r="1.65"/><circle cx="1208.65" cy="1479.55" r="1.65"/>
<circle cx="1200.1" cy="1484.35" r="2.7"/>
<line x1="920.1" y1="1740" x2="920.1" y2="1769" stroke="#000" stroke-width="2"/>
<line x1="906.4" y1="1769" x2="934" y2="1769" stroke="#000" stroke-width="2.6"/>
<line x1="906.4" y1="1740" x2="934" y2="1740" stroke="#000" stroke-width="2.6"/>
<line x1="892.6" y1="1753.7" x2="948.6" y2="1753.7" stroke="#000" stroke-width="3.2"/>
<circle cx="910.2" cy="1727.5" r="8" fill="none" stroke="#000" stroke-width="3.5"/>
<circle cx="929.8" cy="1727.5" r="8" fill="none" stroke="#000" stroke-width="3.5"/>
<circle cx="920.1" cy="1731.9" r="8" fill="none" stroke="#000" stroke-width="3.5"/>
<circle cx="910.4" cy="1749.2" r="8" fill="none" stroke="#000" stroke-width="3.5"/>
<circle cx="920.1" cy="1752.2" r="8" fill="none" stroke="#000" stroke-width="3.5"/>
<circle cx="900.3" cy="1757.3" r="8" fill="none" stroke="#000" stroke-width="3.5"/>
<circle cx="940.4" cy="1753.7" r="8" fill="none" stroke="#000" stroke-width="3.5"/>
<circle cx="931.8" cy="1766.5" r="8" fill="none" stroke="#000" stroke-width="3.5"/>
<circle cx="920.1" cy="1771.5" r="8" fill="none" stroke="#000" stroke-width="3.5"/>
<circle cx="920.1" cy="1796.5" r="8" fill="none" stroke="#000" stroke-width="3.5"/>
<circle cx="916" cy="1756" r="8" fill="none" stroke="#000" stroke-width="3.5"/>
<line x1="1003" y1="1817.6" x2="1003" y2="1842" stroke="#000" stroke-width="2"/>
<line x1="989.2" y1="1817.6" x2="1016.7" y2="1817.6" stroke="#000" stroke-width="2.6"/>
<line x1="975.6" y1="1830.2" x2="1030.8" y2="1830.2" stroke="#000" stroke-width="3.2"/>
<circle cx="1002.7" cy="1800.7" r="8.7"/>
<circle cx="992.4" cy="1827.4" r="8.7"/>
<circle cx="1014.4" cy="1828.3" r="8.7"/>
<circle cx="1002.7" cy="1832" r="8.7"/>
<circle cx="983.6" cy="1843.7" r="8.7"/>
<circle cx="1002.7" cy="1840.5" r="8.7"/>
<circle cx="1011.1" cy="1838.1" r="8.7"/>
<circle cx="1023.3" cy="1850.7" r="8.7"/>
<circle cx="998" cy="1836.7" r="8.7"/>
<line x1="1141" y1="1599" x2="1141" y2="1647.8" stroke="#000" stroke-width="2"/>
<line x1="1126.7" y1="1647.8" x2="1155.3" y2="1647.8" stroke="#000" stroke-width="2.6"/>
<line x1="1114" y1="1623.6" x2="1168" y2="1623.6" stroke="#000" stroke-width="3.2"/>
<circle cx="1141" cy="1570.8" r="8" fill="none" stroke="#000" stroke-width="3.5"/>
<circle cx="1121.6" cy="1600.1" r="8" fill="none" stroke="#000" stroke-width="3.5"/>
<circle cx="1160.4" cy="1594.4" r="8" fill="none" stroke="#000" stroke-width="3.5"/>
<circle cx="1141" cy="1603.9" r="8" fill="none" stroke="#000" stroke-width="3.5"/>
<circle cx="1160.4" cy="1613.4" r="8" fill="none" stroke="#000" stroke-width="3.5"/>
<circle cx="1121.6" cy="1621.1" r="8" fill="none" stroke="#000" stroke-width="3.5"/>
<circle cx="1160.4" cy="1635.1" r="8" fill="none" stroke="#000" stroke-width="3.5"/>
<circle cx="1141" cy="1649" r="8" fill="none" stroke="#000" stroke-width="3.5"/>
<circle cx="1150.9" cy="1671.3" r="8" fill="none" stroke="#000" stroke-width="3.5"/>
<circle cx="1131.2" cy="1678.9" r="8" fill="none" stroke="#000" stroke-width="3.5"/>
<line x1="1196.9" y1="1795.4" x2="1250.9" y2="1795.4" stroke="#000" stroke-width="3.2"/>
<circle cx="1230.1" cy="1759.4" r="8.7"/>
<circle cx="1243.1" cy="1773.4" r="8.7"/>
<circle cx="1217.4" cy="1778.7" r="8.7"/>
<circle cx="1230.1" cy="1778" r="8.7"/>
<circle cx="1230.1" cy="1795.4" r="8.7"/>
<circle cx="1204" cy="1803.4" r="8.7"/>
<circle cx="1217.4" cy="1812.1" r="8.7"/>
<circle cx="1243.1" cy="1812.1" r="8.7"/>
<circle cx="1230.1" cy="1819.4" r="8.7"/>
<circle cx="1204" cy="1826.1" r="8.7"/></svg>
</body></html>
